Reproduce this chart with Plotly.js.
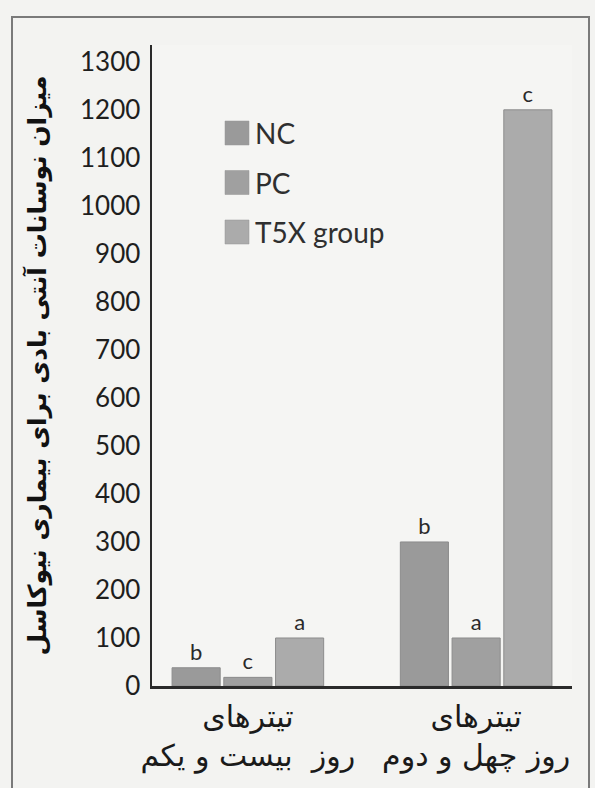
<!DOCTYPE html>
<html>
<head>
<meta charset="utf-8">
<script src="https://cdn.plot.ly/plotly-3.0.1.min.js"></script>
<style>
  html, body { margin: 0; padding: 0; background: #f3f3f1; }
  #chart { width: 595px; height: 788px; }
</style>
</head>
<body>
<div id="chart"></div>
<script>
// ---- data ----
const categories = ["تیترهای<br>روز  بیست و یکم", "تیترهای<br>روز چهل و دوم"];
const seriesNames = ["NC", "PC", "T5X group"];
const ncValues = [38, 300];
const pcValues = [18, 100];
const t5xValues = [100, 1200];
const ncLetters = ["b", "b"];
const pcLetters = ["c", "a"];
const t5xLetters = ["a", "c"];
const yTickValues = [0,100,200,300,400,500,600,700,800,900,1000,1100,1200,1300];
const yTitle = "میزان نوسانات آنتی بادی برای بیماری نیوکاسل";

// ---- styling ----
const colors = ["#9a9a9a", "#a0a0a0", "#ababab"];
const W = 595, H = 788;
const M = {l: 152, r: 23, t: 45, b: 102};
const PW = W - M.l - M.r, PH = H - M.t - M.b;
const px = x => (x - M.l) / PW;
const py = y => (H - M.b - y) / PH;

const valueSets = [ncValues, pcValues, t5xValues];
const letterSets = [ncLetters, pcLetters, t5xLetters];
const traces = seriesNames.map((name, i) => ({
  type: "bar",
  name: name,
  x: categories,
  y: valueSets[i],
  text: letterSets[i],
  textposition: "outside",
  cliponaxis: false,
  textfont: {family: "Lato, 'Open Sans', sans-serif", size: 22, color: "#2a2a2a"},
  marker: {color: colors[i], line: {color: "#8c8c8c", width: 1}},
  showlegend: false,
  hoverinfo: "skip"
}));

// legend drawn as shapes + annotations from the series arrays
const legendShapes = [], legendAnns = [];
const legendTop = 133, legendStep = 49.5;
seriesNames.forEach((name, i) => {
  const cy = legendTop + i * legendStep;
  legendShapes.push({
    type: "rect", xref: "paper", yref: "paper",
    x0: px(225), x1: px(249), y0: py(cy + 12), y1: py(cy - 12),
    fillcolor: colors[i], line: {color: "#959595", width: 0.5}
  });
  legendAnns.push({
    xref: "paper", yref: "paper", x: px(253), y: py(cy),
    xanchor: "left", yanchor: "middle", showarrow: false,
    text: name,
    font: {family: "Lato, 'Open Sans', sans-serif", size: 28, color: "#2f2f2f"}
  });
});

// outer frame
const frame = {
  type: "rect", xref: "paper", yref: "paper",
  x0: px(12), x1: px(589), y0: py(800), y1: py(17),
  line: {color: "#7a7a7a", width: 2}, fillcolor: "rgba(0,0,0,0)", layer: "below"
};

const layout = {
  width: W, height: H,
  margin: M,
  paper_bgcolor: "#f3f3f1",
  plot_bgcolor: "#f5f5f3",
  barmode: "group",
  bargap: 0.32,
  bargroupgap: 0.07,
  showlegend: false,
  font: {family: "Lato, 'DejaVu Sans', sans-serif", color: "#222"},
  xaxis: {
    range: [-0.42, 1.42],
    showline: true, linecolor: "#2a2a2a", linewidth: 2.5,
    ticks: "", showgrid: false, zeroline: false,
    tickangle: 0,
    ticklabelstandoff: 2,
    tickfont: {family: "'DejaVu Sans', 'Noto Sans', sans-serif", size: 30, color: "#1a1a1a"},
    fixedrange: true
  },
  yaxis: {
    range: [0, 1335],
    tickvals: yTickValues,
    showline: true, linecolor: "#2a2a2a", linewidth: 2.5,
    ticks: "", showgrid: false, zeroline: false,
    ticklabelstandoff: 4,
    tickfont: {family: "Lato, 'Open Sans', sans-serif", size: 26, color: "#1e1e1e"},
    title: {
      text: yTitle,
      standoff: 26,
      font: {family: "'DejaVu Sans', 'Noto Sans', sans-serif", size: 25, color: "#111", weight: "bold"}
    },
    fixedrange: true
  },
  shapes: [frame].concat(legendShapes),
  annotations: legendAnns
};

Plotly.newPlot("chart", traces, layout, {displayModeBar: false, staticPlot: true});
</script>
</body>
</html>
